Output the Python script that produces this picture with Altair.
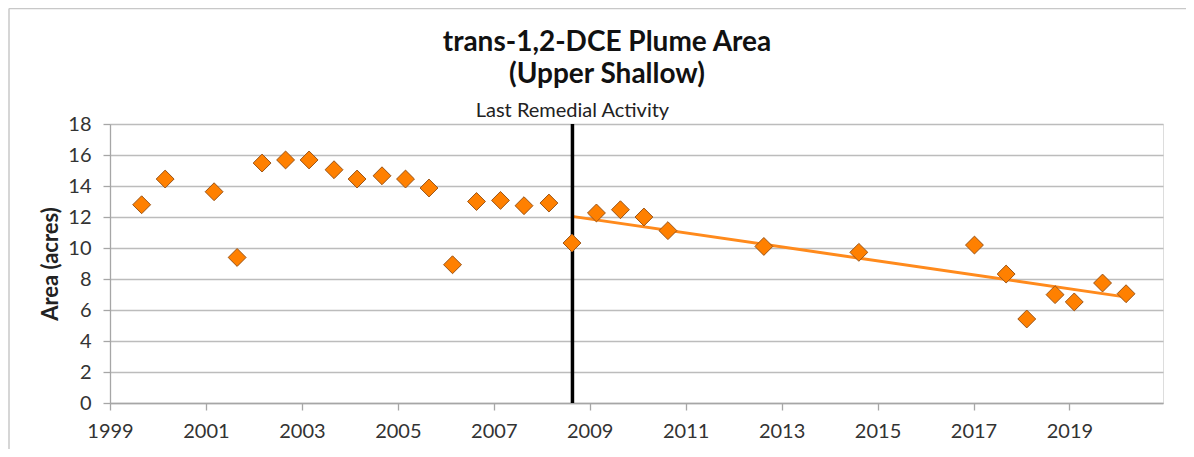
import altair as alt
import pandas as pd

# Observed plume area (acres) by sampling date (decimal year)
years = [1999.66, 2000.15, 2001.17, 2001.65, 2002.17, 2002.66, 2003.15, 2003.67,
         2004.15, 2004.67, 2005.16, 2005.65, 2006.14, 2006.64, 2007.14, 2007.63,
         2008.15, 2008.63, 2009.14, 2009.64, 2010.13, 2010.63, 2012.63, 2014.61,
         2017.02, 2017.68, 2018.11, 2018.70, 2019.10, 2019.69, 2020.18]
areas = [12.79, 14.45, 13.63, 9.39, 15.48, 15.68, 15.68, 15.05,
         14.45, 14.66, 14.45, 13.87, 8.92, 13.00, 13.07, 12.73,
         12.90, 10.32, 12.26, 12.47, 12.00, 11.12, 10.10, 9.72,
         10.19, 8.32, 5.42, 6.99, 6.52, 7.74, 7.05]

# Linear trend after the last remedial activity (end points)
trend_years = [2008.63, 2020.08]
trend_areas = [12.04, 6.88]

# Last remedial activity date
event_year = [2008.64]
event_label = ["Last Remedial Activity"]

title_lines = ["trans-1,2-DCE Plume Area", "(Upper Shallow)"]
x_ticks = [1999, 2001, 2003, 2005, 2007, 2009, 2011, 2013, 2015, 2017, 2019]
y_ticks = [0, 2, 4, 6, 8, 10, 12, 14, 16, 18]

W, H = 1053, 279
FONT = "Lato"

pts = pd.DataFrame({"year": years, "area": areas})
trend = pd.DataFrame({"year": trend_years, "area": trend_areas})
event = pd.DataFrame({"year": event_year, "label": event_label})

xscale = alt.Scale(domain=[1999, 2020.95], nice=False, zero=False)
yscale = alt.Scale(domain=[0, 18], nice=False)

xaxis = alt.Axis(values=x_ticks, format="d", title=None, grid=False,
                 domainColor="#a6a6a6", domainWidth=1.3, tickColor="#a6a6a6",
                 tickWidth=1.3, tickSize=7, labelPadding=11, labelFontSize=20,
                 labelColor="#333333", labelFont=FONT, labelFlush=False,
                 labelOverlap=False)
yaxis = alt.Axis(values=y_ticks, title="Area (acres)", grid=True,
                 gridColor="#bcbcbc", gridWidth=1.4,
                 domainColor="#a6a6a6", domainWidth=1.3, tickColor="#a6a6a6",
                 tickWidth=1.3, tickSize=7, labelPadding=12, labelFontSize=20,
                 labelColor="#333333", labelFont=FONT, labelOverlap=False,
                 labelFlush=False,
                 titleFont=FONT, titleFontSize=22, titleFontWeight="bold",
                 titleColor="#222222", titleAngle=270, titleX=-59.5, titleY=H / 2,
                 titleAlign="center", titleBaseline="middle")

X = alt.X("year:Q", scale=xscale, axis=xaxis)
Y = alt.Y("area:Q", scale=yscale, axis=yaxis)

# frame lines (top and left edge of the chart area)
frame_top = alt.Chart(event).mark_rule(color="#c8c8c8", strokeWidth=1.5).encode(
    x=alt.value(-101), x2=alt.value(W + 100), y=alt.value(-115.5)
)
frame_left = alt.Chart(event).mark_rule(color="#c8c8c8", strokeWidth=1.5).encode(
    x=alt.value(-101), y=alt.value(-115.5), y2=alt.value(H + 100)
)

trend_line = alt.Chart(trend).mark_line(color="#ff8a1c", strokeWidth=3).encode(x=X, y=Y)

rule = alt.Chart(event).mark_rule(color="#000000", strokeWidth=3.5).encode(
    x=X, y=alt.value(0), y2=alt.value(H),
)

event_text = alt.Chart(event).mark_text(
    font=FONT, fontSize=20, color="#222222", baseline="alphabetic", align="center"
).encode(
    x=X, y=alt.value(-7.5), text="label:N"
)

points = alt.Chart(pts).mark_point(
    shape="diamond", filled=True, size=320, fill="#ff8000", stroke="#9a5418",
    strokeWidth=1, opacity=1
).encode(x=X, y=Y)

title_df = pd.DataFrame({"line": title_lines, "dy": [-72.8, -41.0]})
title = alt.Chart(title_df).mark_text(
    font=FONT, fontSize=28, fontWeight="bold", color="#111111",
    baseline="alphabetic", align="center"
).encode(
    x=alt.value(497), y=alt.Y("dy:Q", scale=None), text="line:N"
)

chart = alt.layer(frame_top, frame_left, trend_line, rule, points,
                  event_text, title).properties(
    width=W, height=H,
    autosize=alt.AutoSizeParams(type="none"),
    padding={"left": 102, "top": 116, "right": 23, "bottom": 46},
).configure_view(stroke=None).configure(background="white")

chart.save("out.html", embed_options={"renderer": "svg", "actions": False})
